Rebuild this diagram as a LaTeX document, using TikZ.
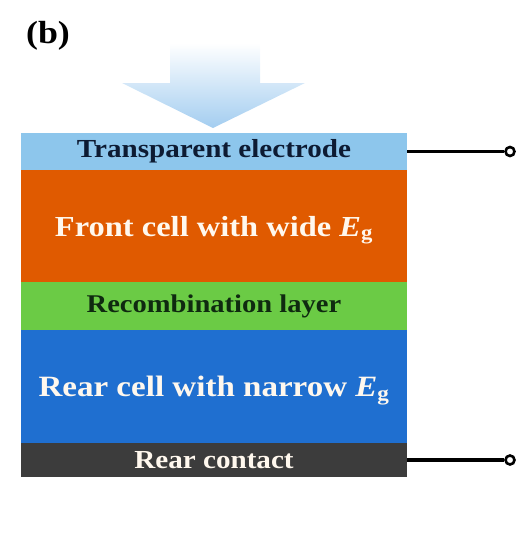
\documentclass[tikz,border=0pt]{standalone}
\usepackage{fontspec}
\setmainfont{Liberation Serif}[FakeStretch=1.12]
\definecolor{elecblue}{HTML}{8DC6EC}
\definecolor{frontorange}{HTML}{E05A00}
\definecolor{recgreen}{HTML}{6BCB45}
\definecolor{rearblue}{HTML}{1F6FD0}
\definecolor{contactgray}{HTML}{3C3C3C}
\definecolor{arrowblue}{HTML}{A3CDF0}
\definecolor{navytext}{HTML}{0D1B33}
\definecolor{greentext}{HTML}{0F2A10}
\definecolor{creamtext}{HTML}{FFF8EE}
\begin{document}
\begin{tikzpicture}[x=1pt,y=-1pt,
 lyr/.style={shape=rectangle,minimum width=386pt,inner sep=0pt,outer sep=0pt},
 trm/.style={shape=circle,draw=black,fill=white,line width=2.6pt,minimum size=9pt,inner sep=0pt},
 wire/.style={line width=3.4pt}]
 \useasboundingbox (0,0) rectangle (519,533);
 \node (lbl b) at (48,36) [font=\bfseries\fontsize{32}{36}\selectfont] {(b)};
 \shade[top color=white,bottom color=arrowblue] (170,43) -- (260,43) -- (260,83) -- (305,83) -- (213,128) -- (122,83) -- (170,83) -- cycle;
 \node (lyr 1) at (214,151.5) [lyr,minimum height=37pt,fill=elecblue,text=navytext,font=\bfseries\fontsize{26}{30}\selectfont] {Transparent electrode};
 \node (lyr 2) at (214,226) [lyr,minimum height=112pt,text depth=0pt,fill=frontorange,text=creamtext,font=\bfseries\fontsize{29}{33}\selectfont] {Front cell with wide {\itshape E}\textsubscript{g}};
 \node (lyr 3) at (214,306) [lyr,minimum height=48pt,fill=recgreen,text=greentext,font=\bfseries\fontsize{25.5}{29}\selectfont] {Recombination layer};
 \node (lyr 4) at (214,386.5) [lyr,minimum height=113pt,text depth=0pt,fill=rearblue,text=creamtext,font=\bfseries\fontsize{29.5}{33}\selectfont] {Rear cell with narrow {\itshape E}\textsubscript{g}};
 \node (lyr 5) at (214,460) [lyr,minimum height=34pt,fill=contactgray,text=creamtext,font=\bfseries\fontsize{26}{30}\selectfont] {Rear contact};
 \node (trm 1) at (510,151.5) [trm] {};
 \node (trm 2) at (510,460) [trm] {};
 \draw[wire] (lyr 1.east) -- (trm 1);
 \draw[wire] (lyr 5.east) -- (trm 2);
\end{tikzpicture}
\end{document}
